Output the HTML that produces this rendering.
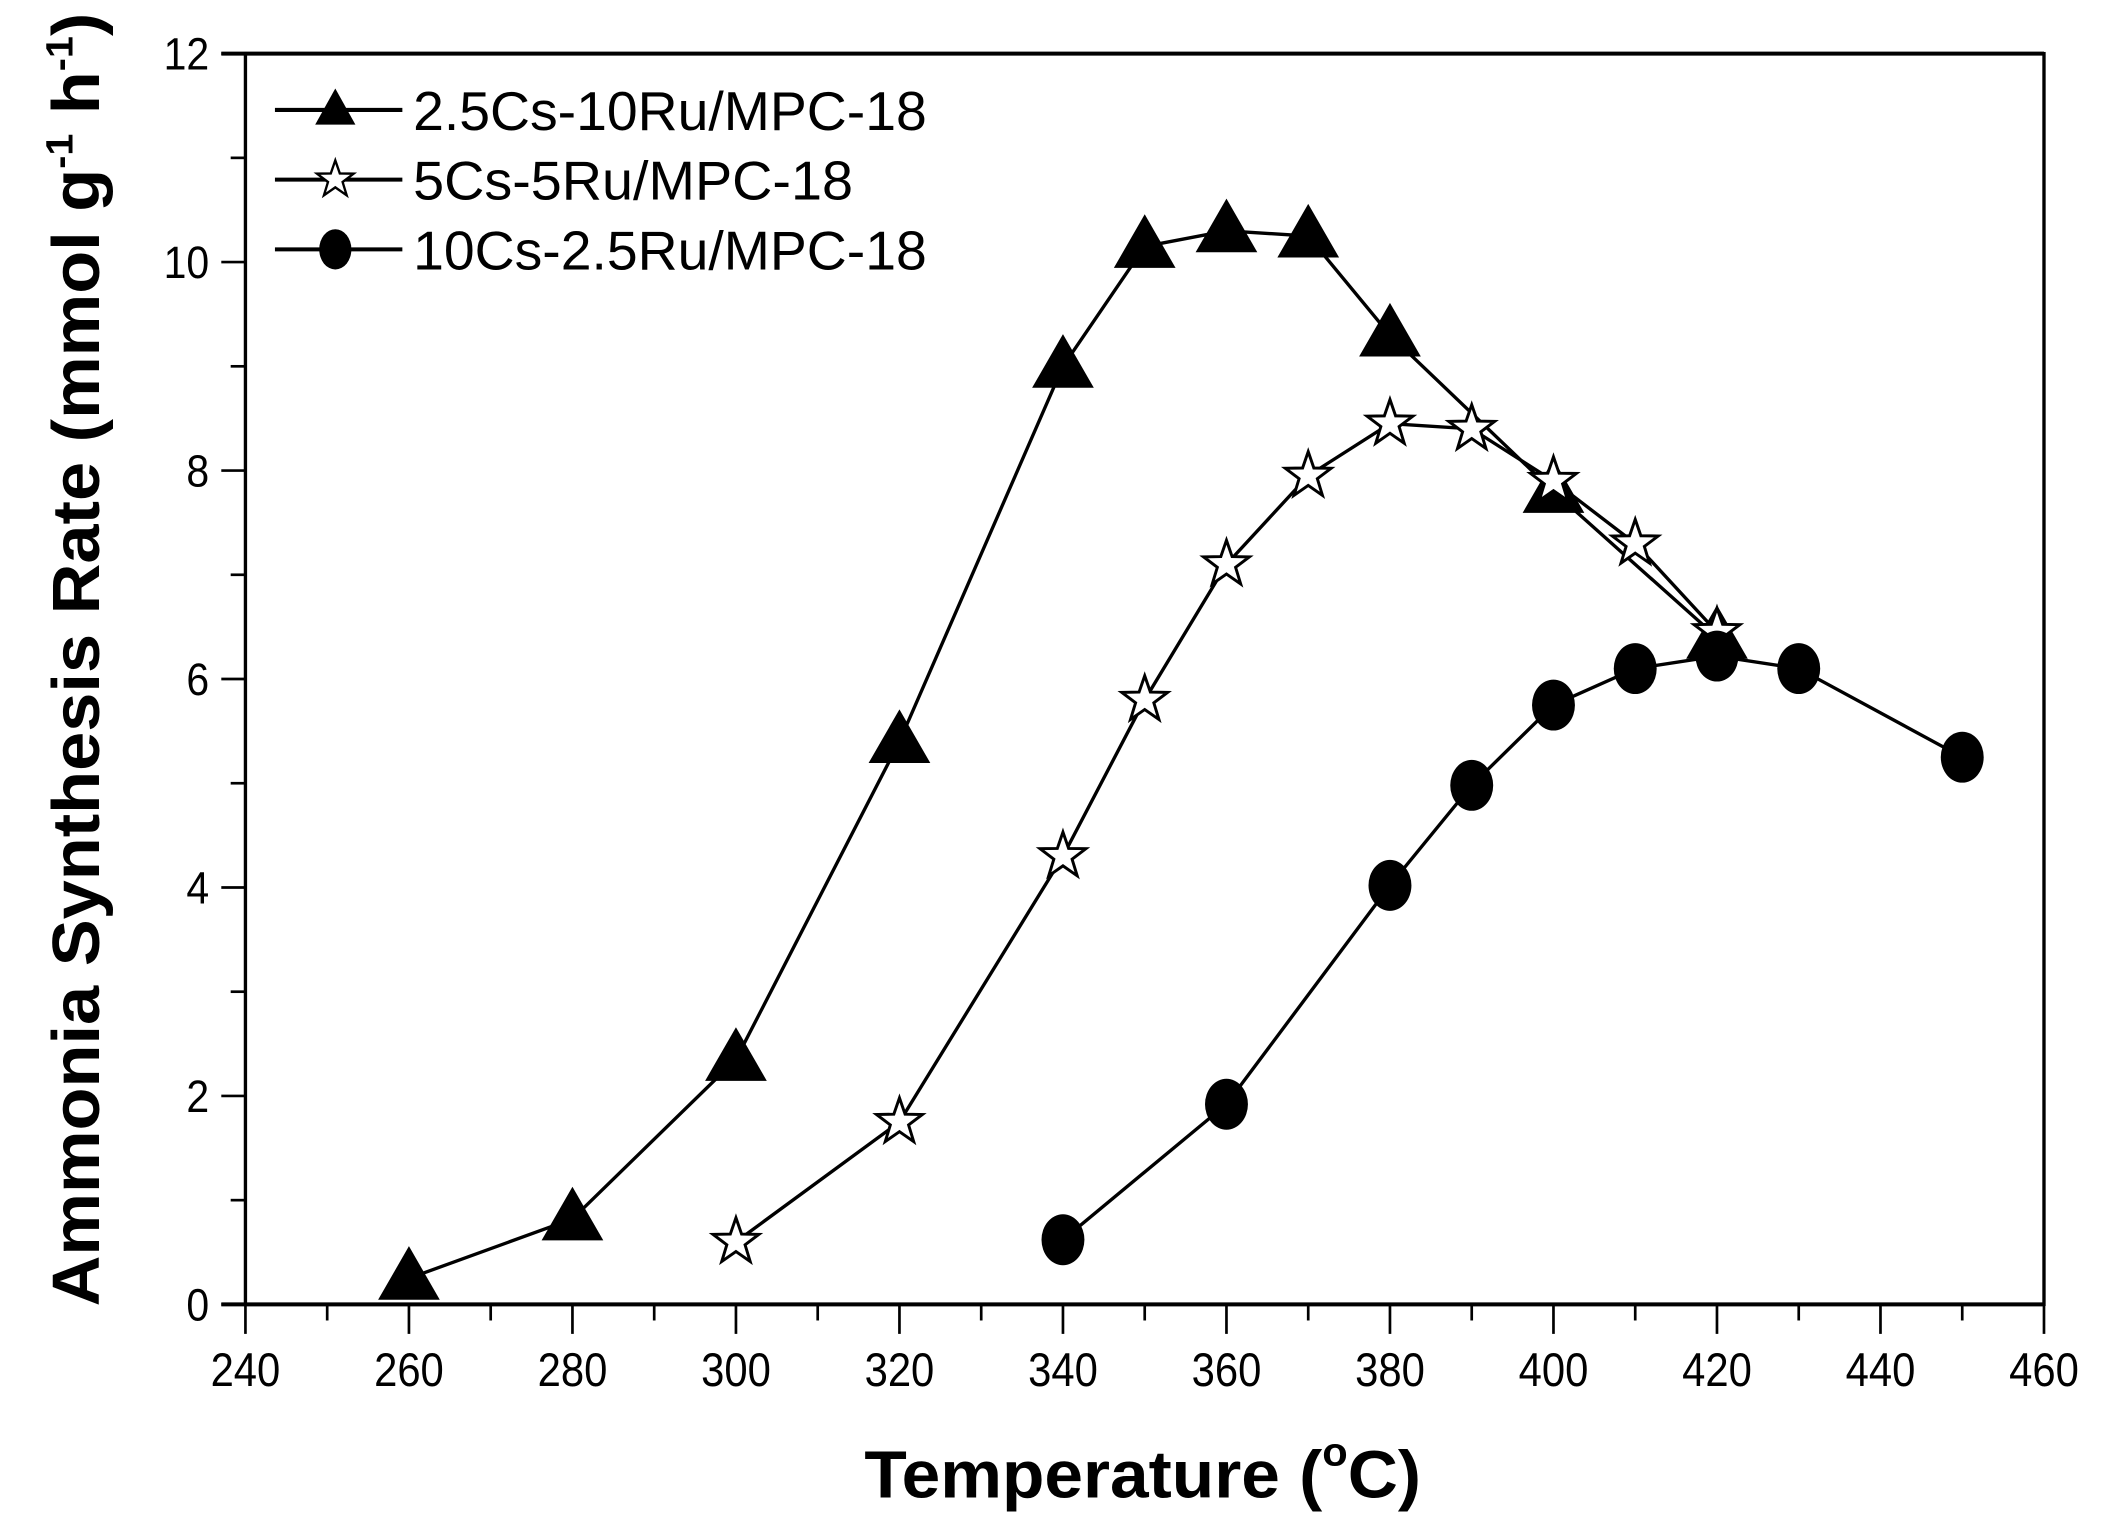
<!DOCTYPE html>
<html><head><style>html,body{margin:0;padding:0;background:#fff}svg{display:block}</style></head>
<body>
<svg width="2103" height="1539" viewBox="0 0 1568 1148" preserveAspectRatio="none" xmlns="http://www.w3.org/2000/svg" font-family="Liberation Sans, sans-serif">
<defs>
<path id="tri" d="M0,-24 L23,16 L-23,16 Z" fill="#000"/>
<path id="star" d="M0,-18 L4.2,-5.8 L17.1,-5.6 L6.8,2.2 L10.6,14.6 L0,7.2 L-10.6,14.6 L-6.8,2.2 L-17.1,-5.6 L-4.2,-5.8 Z" fill="#fff" stroke="#000" stroke-width="2.2"/>
</defs>
<g stroke="#000" fill="none">
<rect x="183" y="40" width="1341" height="933" stroke-width="2.5"/>
<line x1="165" y1="40" x2="1524" y2="40" stroke-width="3"/>
<line x1="165" y1="973" x2="1524" y2="973" stroke-width="3"/>
</g>
<g stroke="#000" stroke-width="2" id="ticks"></g>
<g font-size="35" text-anchor="middle" id="xl"></g>
<g font-size="34" text-anchor="end" id="yl"></g>
<g id="series"></g>
<g stroke="#000" stroke-width="3">
<line x1="205" y1="82" x2="300" y2="82"/><line x1="205" y1="134" x2="300" y2="134"/><line x1="205" y1="186" x2="300" y2="186"/>
</g>
<path d="M250,66 L265,93 L235,93 Z" fill="#000"/>
<use href="#star" transform="translate(250,134) scale(0.8)"/>
<ellipse cx="250" cy="186" rx="12" ry="15" fill="#000"/>
<g font-size="41" fill="#000">
<text x="308" y="97" textLength="383" lengthAdjust="spacingAndGlyphs">2.5Cs-10Ru/MPC-18</text>
<text x="308" y="149" textLength="328" lengthAdjust="spacingAndGlyphs">5Cs-5Ru/MPC-18</text>
<text x="308" y="201" textLength="383" lengthAdjust="spacingAndGlyphs">10Cs-2.5Ru/MPC-18</text>
</g>
<text x="852" y="1117" font-size="50" font-weight="bold" text-anchor="middle" textLength="415" lengthAdjust="spacingAndGlyphs">Temperature (<tspan font-size="30" dy="-24">o</tspan><tspan dy="24">C)</tspan></text>
<text transform="translate(74,492) rotate(-90)" font-size="50" font-weight="bold" text-anchor="middle" textLength="965" lengthAdjust="spacingAndGlyphs">Ammonia Synthesis Rate (mmol g<tspan font-size="28" dy="-20">-1</tspan><tspan dy="20"> h</tspan><tspan font-size="28" dy="-20">-1</tspan><tspan dy="20">)</tspan></text>
<script>
const NS="http://www.w3.org/2000/svg";
const X=t=>183+(t-240)*1341/220, Y=v=>973-v*933/12;
function el(p,n,a,txt){const e=document.createElementNS(NS,n);for(const k in a)e.setAttribute(k,a[k]);if(txt!=null)e.textContent=txt;(typeof p=="string"?document.getElementById(p):p).appendChild(e);return e;}
for(let t=240;t<=460;t+=10){const maj=t%20==0;el("ticks","line",{x1:X(t),x2:X(t),y1:973,y2:maj?995:985});if(maj)el("xl","text",{x:X(t),y:1034,textLength:52,lengthAdjust:"spacingAndGlyphs"},t);}
for(let v=0;v<=12;v+=1){const maj=v%2==0;el("ticks","line",{x1:maj?165:172,x2:183,y1:Y(v),y2:Y(v)});if(maj)el("yl","text",{x:156,y:Y(v)+12,textLength:v>=10?34:17,lengthAdjust:"spacingAndGlyphs"},v);}
const S=[
 ["tri",[[260,.25],[280,.82],[300,2.35],[320,5.4],[340,9.0],[350,10.15],[360,10.3],[370,10.25],[380,9.3],[400,7.8],[420,6.4]]],
 ["star",[[300,.6],[320,1.75],[340,4.3],[350,5.8],[360,7.1],[370,7.95],[380,8.45],[390,8.4],[400,7.9],[410,7.3],[420,6.45]]],
 ["cir",[[340,.62],[360,1.92],[380,4.02],[390,4.98],[400,5.75],[410,6.1],[420,6.22],[430,6.1],[450,5.25]]]];
const g=document.getElementById("series");
S.forEach(([m,d])=>{el(g,"polyline",{points:d.map(p=>X(p[0])+","+Y(p[1])).join(" "),fill:"none",stroke:"#000","stroke-width":2.5});});
S.forEach(([m,d])=>{d.forEach(p=>{if(m=="cir")el(g,"ellipse",{cx:X(p[0]),cy:Y(p[1]),rx:16,ry:19,fill:"#000"});else el(g,"use",{href:"#"+m,transform:`translate(${X(p[0])},${Y(p[1])})`});});});
</script>
</svg>
</body></html>
